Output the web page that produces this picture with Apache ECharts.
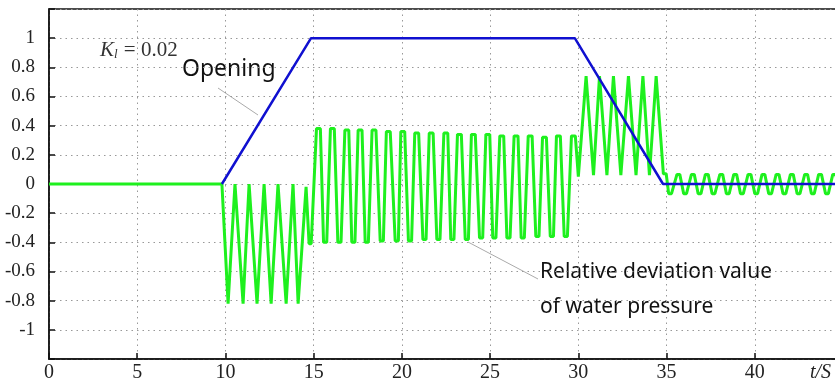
<!DOCTYPE html>
<html>
<head>
<meta charset="utf-8">
<script src="https://cdn.jsdelivr.net/npm/echarts@6/dist/echarts.min.js"></script>
<style>
  html, body { margin: 0; padding: 0; background: #fff; }
  #chart { width: 835px; height: 383px; }
</style>
</head>
<body>
<div id="chart"></div>
<script>
// time axis ticks (s) and value axis ticks
const timeTicks = [0, 5, 10, 15, 20, 25, 30, 35, 40];
const valueTicks = [-1, -0.8, -0.6, -0.4, -0.2, 0, 0.2, 0.4, 0.6, 0.8, 1];

// guide vane opening (blue)
const openingT = [9.8, 14.85, 29.8, 34.8, 45];
const openingV = [0, 1, 1, 0, 0];

// relative deviation value of water pressure (green), [t, value]
const pressure = [
  [0, 0], [9.8, 0],
  [10.15, -0.82], [10.54, 0], [11.0, -0.82], [11.34, 0], [11.79, -0.82], [12.19, 0],
  [12.59, -0.82], [12.98, 0], [13.44, -0.82], [13.83, 0], [14.12, -0.82], [14.57, -0.02],
  [14.74, -0.41], [14.86, -0.41],
  [15.16, 0.38], [15.38, 0.38], [15.56, -0.40], [15.74, -0.40],
  [15.95, 0.38], [16.17, 0.38], [16.37, -0.40], [16.55, -0.40],
  [16.77, 0.37], [16.99, 0.37], [17.16, -0.40], [17.34, -0.40],
  [17.52, 0.37], [17.74, 0.37], [17.92, -0.40], [18.10, -0.40],
  [18.31, 0.37], [18.53, 0.37], [18.77, -0.39], [18.95, -0.39],
  [19.12, 0.36], [19.34, 0.36], [19.62, -0.39], [19.80, -0.39],
  [19.94, 0.36], [20.16, 0.36], [20.37, -0.39], [20.55, -0.39],
  [20.73, 0.35], [20.95, 0.35], [21.19, -0.38], [21.37, -0.38],
  [21.55, 0.35], [21.77, 0.35], [21.98, -0.38], [22.16, -0.38],
  [22.38, 0.35], [22.60, 0.35], [22.77, -0.38], [22.95, -0.38],
  [23.15, 0.34], [23.37, 0.34], [23.59, -0.38], [23.77, -0.38],
  [23.94, 0.34], [24.16, 0.34], [24.40, -0.37], [24.58, -0.37],
  [24.76, 0.34], [24.98, 0.34], [25.15, -0.37], [25.33, -0.37],
  [25.55, 0.33], [25.77, 0.33], [25.95, -0.37], [26.13, -0.37],
  [26.36, 0.33], [26.58, 0.33], [26.76, -0.37], [26.94, -0.37],
  [27.16, 0.33], [27.38, 0.33], [27.59, -0.36], [27.77, -0.36],
  [27.97, 0.32], [28.19, 0.32], [28.41, -0.36], [28.59, -0.36],
  [28.76, 0.33], [28.98, 0.33], [29.20, -0.36], [29.38, -0.36],
  [29.61, 0.33], [29.83, 0.33], [30.0, 0.05],
  [30.44, 0.74], [30.86, 0.06], [31.2, 0.74], [31.62, 0.06], [31.99, 0.74], [32.41, 0.06],
  [32.84, 0.74], [33.27, 0.06], [33.66, 0.74], [34.03, 0.06], [34.41, 0.74], [34.82, 0.07],
  [34.98, 0.07],
  [35.12, -0.066], [35.28, -0.066], [35.59, 0.066], [35.75, 0.066],
  [35.97, -0.066], [36.13, -0.066], [36.41, 0.066], [36.57, 0.066],
  [36.79, -0.066], [36.95, -0.066], [37.20, 0.066], [37.36, 0.066],
  [37.58, -0.066], [37.74, -0.066], [38.02, 0.066], [38.18, 0.066],
  [38.39, -0.066], [38.55, -0.066], [38.81, 0.066], [38.97, 0.066],
  [39.19, -0.066], [39.35, -0.066], [39.62, 0.066], [39.78, 0.066],
  [40.00, -0.066], [40.16, -0.066], [40.41, 0.066], [40.57, 0.066],
  [40.79, -0.066], [40.95, -0.066], [41.21, 0.066], [41.37, 0.066],
  [41.60, -0.066], [41.76, -0.066], [42.02, 0.066], [42.18, 0.066],
  [42.40, -0.066], [42.56, -0.066], [42.83, 0.066], [42.99, 0.066],
  [43.21, -0.066], [43.37, -0.066], [43.62, 0.066], [43.78, 0.066],
  [44.01, -0.066], [44.17, -0.066], [44.42, 0.066], [44.58, 0.066],
  [44.9, -0.066], [45, -0.05]
];

const serif = 'Liberation Serif';
const sans = 'Noto Sans';

let chart = echarts.init(document.getElementById('chart'));

let option = {
  animation: false,
  grid: {
    left: 49, right: -8, top: 9, bottom: 24,
    outerBoundsMode: 'none',
    show: true, borderColor: '#111', borderWidth: 1.5, backgroundColor: 'transparent'
  },
  xAxis: {
    type: 'value',
    min: 0, max: 45, interval: 5,
    axisLine: { onZero: false, lineStyle: { color: '#111', width: 1.5 } },
    axisTick: { inside: true, length: 6, lineStyle: { color: '#111', width: 1.5 } },
    axisLabel: {
      color: '#222', fontFamily: serif, fontSize: 20, margin: 4,
      formatter: v => timeTicks.indexOf(v) >= 0 ? String(v) : ''
    },
    splitLine: { show: true, lineStyle: { color: '#999', type: [1.5, 4], width: 1 } }
  },
  yAxis: {
    type: 'value',
    min: -1.2, max: 1.2, interval: 0.2,
    axisLine: { show: true, onZero: false, lineStyle: { color: '#111', width: 1.5 } },
    axisTick: { show: true, inside: true, length: 6, lineStyle: { color: '#111', width: 1.5 } },
    axisLabel: {
      color: '#222', fontFamily: serif, fontSize: 19, margin: 14,
      formatter: function (v) {
        let r = Math.round(v * 10) / 10;
        return valueTicks.indexOf(r) >= 0 ? String(r) : '';
      }
    },
    splitLine: { show: true, lineStyle: { color: '#999', type: [1.5, 4], width: 1 } }
  },
  series: [{
    name: 'pressure',
    type: 'line',
    data: pressure,
    showSymbol: false,
    lineStyle: { color: '#1ef01e', width: 3 },
    z: 2
  }, {
    name: 'opening',
    type: 'line',
    data: openingT.map((t, i) => [t, openingV[i]]),
    showSymbol: false,
    lineStyle: { color: '#1010d0', width: 2.5 },
    z: 3
  }],
  graphic: [
    {
      type: 'text', left: 100, top: 40,
      style: {
        text: '{k|K}{s|l}{n| = 0.02}',
        rich: {
          k: { fontFamily: serif, fontStyle: 'italic', fontSize: 21, fill: '#333' },
          s: { fontFamily: serif, fontStyle: 'italic', fontSize: 13, fill: '#333', padding: [8, 1, 0, 0] },
          n: { fontFamily: serif, fontSize: 21, fill: '#333' }
        }
      }
    },
    {
      type: 'text', left: 182, top: 58,
      style: { text: 'Opening', fontFamily: sans, fontSize: 23, fill: '#111' }
    },
    {
      type: 'line', shape: { x1: 218, y1: 88, x2: 258, y2: 115 },
      style: { stroke: '#aaa', lineWidth: 1 }
    },
    {
      type: 'text', left: 540, top: 262,
      style: { text: 'Relative deviation value', fontFamily: sans, fontSize: 21, fill: '#111' }
    },
    {
      type: 'text', left: 540, top: 297,
      style: { text: 'of water pressure', fontFamily: sans, fontSize: 21, fill: '#111' }
    },
    {
      type: 'line', shape: { x1: 468, y1: 242, x2: 538, y2: 279 },
      style: { stroke: '#aaa', lineWidth: 1 }
    },
    {
      type: 'text', left: 810, top: 363,
      style: { text: 't/S', fontFamily: serif, fontStyle: 'italic', fontSize: 20, fill: '#222' }
    }
  ]
};

chart.setOption(option);
</script>
</body>
</html>
